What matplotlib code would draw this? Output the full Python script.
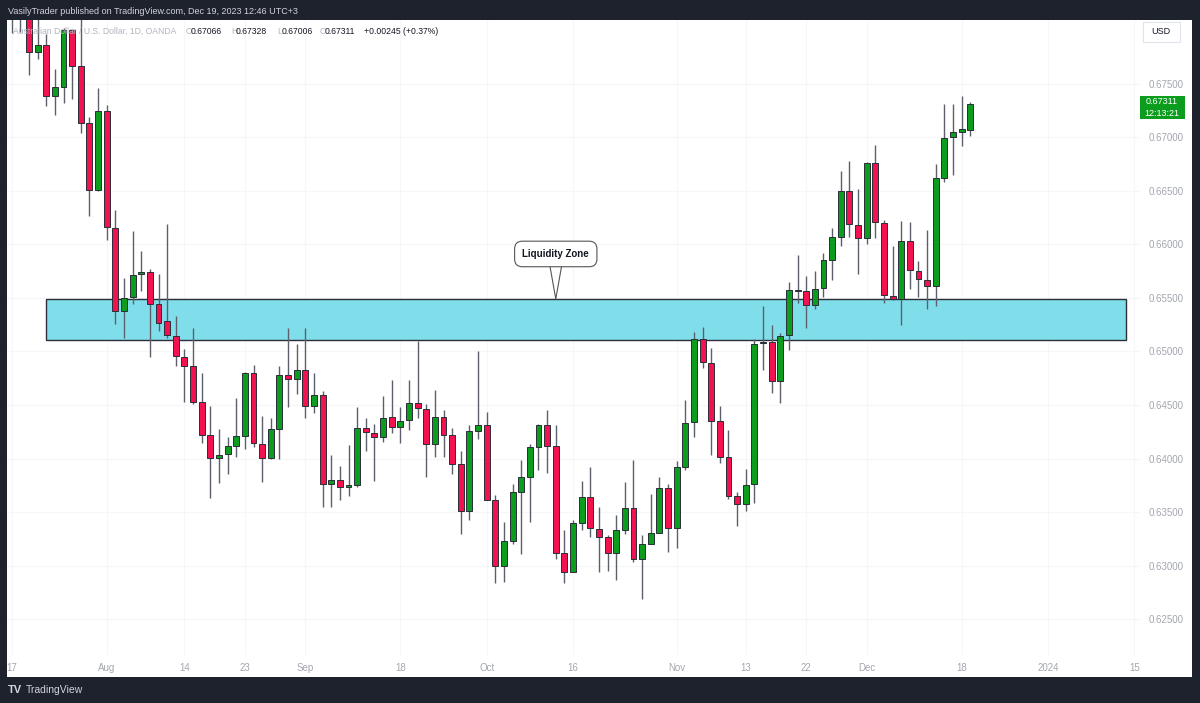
import numpy as np
import pandas as pd
import matplotlib
matplotlib.use('Agg')
import matplotlib.pyplot as plt
from matplotlib.patches import Rectangle

plt.rcParams['font.family'] = ['Liberation Sans', 'DejaVu Sans']

# AUD/USD daily candles, 17 Jul - 19 Dec 2023
opens = [0.6835, 0.6816, 0.6826, 0.6779, 0.6786, 0.6738, 0.6747, 0.6800, 0.6766, 0.6713,
         0.6651, 0.6724, 0.6615, 0.6538, 0.6551, 0.6572, 0.6574, 0.6544, 0.6528, 0.6514,
         0.6495, 0.6486, 0.6453, 0.6422, 0.6401, 0.6404, 0.6412, 0.6421, 0.6480, 0.6414,
         0.6401, 0.6428, 0.6478, 0.6474, 0.6483, 0.6449, 0.6459, 0.6376, 0.6380, 0.6374,
         0.6375, 0.6429, 0.6424, 0.6420, 0.6439, 0.6430, 0.6436, 0.6452, 0.6446, 0.6414,
         0.6439, 0.6422, 0.6395, 0.6351, 0.6426, 0.6431, 0.6361, 0.6300, 0.6323, 0.6369,
         0.6383, 0.6411, 0.6431, 0.6412, 0.6312, 0.6294, 0.6340, 0.6364, 0.6334, 0.6327,
         0.6312, 0.6333, 0.6354, 0.6306, 0.6320, 0.6331, 0.6373, 0.6335, 0.6392, 0.6434,
         0.6512, 0.6489, 0.6435, 0.6402, 0.6365, 0.6358, 0.6376, 0.6508, 0.6509, 0.6472,
         0.6515, 0.6557, 0.6556, 0.6543, 0.6559, 0.6585, 0.6607, 0.6650, 0.6618, 0.6606,
         0.6676, 0.6620, 0.6552, 0.6549, 0.6603, 0.6575, 0.6567, 0.6561, 0.6662, 0.6700,
         0.6705, 0.67066]
highs = [0.6850, 0.6838, 0.6832, 0.6815, 0.6796, 0.6764, 0.6802, 0.6801, 0.6815, 0.6719,
         0.6746, 0.6730, 0.6632, 0.6569, 0.6612, 0.6594, 0.6577, 0.6572, 0.6619, 0.6533,
         0.6502, 0.6522, 0.6480, 0.6449, 0.6428, 0.6420, 0.6457, 0.6481, 0.6487, 0.6440,
         0.6438, 0.6486, 0.6522, 0.6507, 0.6522, 0.6480, 0.6463, 0.6403, 0.6393, 0.6413,
         0.6448, 0.6438, 0.6432, 0.6458, 0.6473, 0.6448, 0.6473, 0.6510, 0.6451, 0.6464,
         0.6445, 0.6429, 0.6407, 0.6431, 0.6500, 0.6444, 0.6366, 0.6341, 0.6376, 0.6399,
         0.6414, 0.6432, 0.6445, 0.6431, 0.6333, 0.6343, 0.6379, 0.6392, 0.6355, 0.6329,
         0.6347, 0.6378, 0.6399, 0.6329, 0.6367, 0.6383, 0.6376, 0.6398, 0.6455, 0.6518,
         0.6523, 0.6503, 0.6449, 0.6427, 0.6369, 0.6390, 0.6512, 0.6542, 0.6525, 0.6517,
         0.6565, 0.6590, 0.6570, 0.6575, 0.6592, 0.6615, 0.6668, 0.6678, 0.6652, 0.6677,
         0.6693, 0.6623, 0.6598, 0.6622, 0.6621, 0.6584, 0.6613, 0.6675, 0.6731, 0.6731,
         0.6738, 0.67328]
lows = [0.6797, 0.6798, 0.6758, 0.6773, 0.6729, 0.6721, 0.6732, 0.6736, 0.6704, 0.6626,
        0.6650, 0.6604, 0.6526, 0.6513, 0.6544, 0.6556, 0.6495, 0.6519, 0.6513, 0.6486,
        0.6453, 0.6451, 0.6415, 0.6363, 0.6377, 0.6386, 0.6402, 0.6409, 0.6411, 0.6378,
        0.6400, 0.6400, 0.6448, 0.6460, 0.6438, 0.6443, 0.6355, 0.6355, 0.6361, 0.6365,
        0.6374, 0.6407, 0.6379, 0.6416, 0.6424, 0.6415, 0.6427, 0.6438, 0.6383, 0.6402,
        0.6402, 0.6386, 0.6330, 0.6343, 0.6418, 0.6361, 0.6284, 0.6285, 0.6320, 0.6311,
        0.6341, 0.6389, 0.6387, 0.6306, 0.6284, 0.6294, 0.6333, 0.6327, 0.6294, 0.6295,
        0.6287, 0.6330, 0.6304, 0.6269, 0.6320, 0.6331, 0.6313, 0.6317, 0.6389, 0.6420,
        0.6485, 0.6403, 0.6396, 0.6362, 0.6337, 0.6351, 0.6359, 0.6483, 0.6461, 0.6452,
        0.6501, 0.6545, 0.6522, 0.6540, 0.6551, 0.6567, 0.6598, 0.6607, 0.6572, 0.6600,
        0.6606, 0.6545, 0.6548, 0.6525, 0.6558, 0.6551, 0.6540, 0.6542, 0.6658, 0.6665,
        0.6692, 0.67006]
closes = [0.6818, 0.6826, 0.6779, 0.6786, 0.6738, 0.6747, 0.6800, 0.6766, 0.6713, 0.6651,
          0.6724, 0.6616, 0.6538, 0.6550, 0.6571, 0.6574, 0.6544, 0.6527, 0.6515, 0.6496,
          0.6486, 0.6453, 0.6422, 0.6401, 0.6403, 0.6412, 0.6421, 0.6480, 0.6415, 0.6401,
          0.6428, 0.6478, 0.6474, 0.6483, 0.6449, 0.6459, 0.6376, 0.6380, 0.6374, 0.6375,
          0.6429, 0.6425, 0.6420, 0.6438, 0.6430, 0.6435, 0.6452, 0.6447, 0.6414, 0.6439,
          0.6422, 0.6395, 0.6351, 0.6426, 0.6431, 0.6361, 0.6300, 0.6323, 0.6369, 0.6383,
          0.6411, 0.6431, 0.6412, 0.6312, 0.6294, 0.6340, 0.6364, 0.6335, 0.6327, 0.6312,
          0.6333, 0.6354, 0.6306, 0.6320, 0.6331, 0.6373, 0.6335, 0.6392, 0.6433, 0.6512,
          0.6490, 0.6435, 0.6402, 0.6365, 0.6358, 0.6375, 0.6507, 0.6509, 0.6472, 0.6514,
          0.6557, 0.6556, 0.6543, 0.6558, 0.6585, 0.6607, 0.6650, 0.6619, 0.6606, 0.6676,
          0.6621, 0.6553, 0.6549, 0.6603, 0.6576, 0.6568, 0.6561, 0.6662, 0.6699, 0.6705,
          0.6708, 0.67311]

dates = pd.bdate_range('2023-07-17', '2023-12-19')
axis_days = pd.bdate_range('2023-07-17', '2024-01-31')

tick_dates = ['2023-07-17', '2023-08-01', '2023-08-14', '2023-08-23', '2023-09-01',
              '2023-09-18', '2023-10-02', '2023-10-16', '2023-11-01', '2023-11-13',
              '2023-11-22', '2023-12-01', '2023-12-18', '2024-01-01', '2024-01-15']
tick_labels = ['17', 'Aug', '14', '23', 'Sep', '18', 'Oct', '16', 'Nov', '13',
               '22', 'Dec', '18', '2024', '15']
price_ticks = [0.625, 0.630, 0.635, 0.640, 0.645, 0.650, 0.655, 0.660, 0.665, 0.670, 0.675]

zone_low, zone_high = 0.6511, 0.6549
zone_start, zone_end = '2023-07-21', '2024-01-12'

GREEN = '#0c9c1e'
RED = '#f2124f'
W, H = 1200, 703

def fx(px):
    return px / W

def fy(py):
    return 1 - py / H

fig = plt.figure(figsize=(W / 100, H / 100), dpi=100)
fig.patch.set_facecolor('#1e222d')
# white chart panel
fig.patches.append(Rectangle((fx(7), fy(677)), fx(1192) - fx(7), fy(20) - fy(677),
                             transform=fig.transFigure, fc='white', ec='none', zorder=-5))

ax = fig.add_axes([fx(7), fy(655), fx(1140) - fx(7), fy(20) - fy(655)])
ax.set_zorder(1)
ax.set_facecolor('white')

o = np.array(opens); h = np.array(highs); l = np.array(lows); c = np.array(closes)
x = np.arange(len(dates))
up = c >= o
cols = np.where(up, GREEN, RED)

ax.vlines(x, l, h, color='#5d606b', lw=1, zorder=3)
ax.bar(x, np.maximum(np.abs(c - o), 0.00004), bottom=np.minimum(o, c), width=0.68,
       color=cols, edgecolor='#2a2e39', linewidth=0.7, zorder=4)

# liquidity zone
z0 = axis_days.get_loc(pd.Timestamp(zone_start))
z1 = axis_days.get_loc(pd.Timestamp(zone_end))
ax.add_patch(Rectangle((z0, zone_low), z1 - z0, zone_high - zone_low,
                       fc='#80deea', ec='#2a2e39', lw=1, zorder=2))

mid = axis_days.get_loc(pd.Timestamp('2023-10-12'))
ax.annotate('Liquidity Zone', xy=(mid, zone_high), xytext=(mid, 0.6591),
            ha='center', va='center', fontsize=7, fontweight='bold', color='#131722',
            bbox=dict(boxstyle='round,pad=0.8', fc='white', ec='#555555', lw=0.8),
            arrowprops=dict(arrowstyle='wedge,tail_width=1.15', mutation_scale=10,
                            fc='white', ec='#555555', lw=0.8, patchA=None, shrinkA=0, shrinkB=0),
            zorder=6)

tick_pos = [axis_days.get_loc(pd.Timestamp(d)) for d in tick_dates]
ax.set_xticks(tick_pos)
ax.set_xticklabels(tick_labels)
ax.set_yticks(price_ticks)
ax.set_yticklabels(['%.5f' % p for p in price_ticks])
ax.yaxis.tick_right()
ax.tick_params(axis='both', length=0, colors='#a3a6af', labelsize=7)
ax.tick_params(axis='x', pad=6)
ax.tick_params(axis='y', pad=6)
ax.grid(True, color='#f5f6f8', lw=0.8, zorder=0)
ax.set_axisbelow(True)
for s in ax.spines.values():
    s.set_visible(False)

ax.set_xlim(-0.544, 130.65)
ax.set_ylim(0.62168, 0.68093)

# header bar
fig.text(fx(8), fy(11), 'VasilyTrader published on TradingView.com, Dec 19, 2023 12:46 UTC+3',
         color='#d1d4dc', fontsize=6.5, va='center', ha='left')

# symbol legend
legend_bits = [(13, 'Australian Dollar / U.S. Dollar, 1D, OANDA', '#b2b5be'),
               (186, 'O', '#b2b5be'), (191, '0.67066', '#131722'),
               (231, 'H', '#b2b5be'), (236, '0.67328', '#131722'),
               (277, 'L', '#b2b5be'), (282, '0.67006', '#131722'),
               (320, 'C', '#b2b5be'), (325, '0.67311', '#131722'),
               (364, '+0.00245 (+0.37%)', '#131722')]
for px, txt, col in legend_bits:
    fig.text(fx(px), fy(31), txt, color=col, fontsize=6.2, va='center', ha='left', zorder=10)

# USD box
fig.patches.append(Rectangle((fx(1143), fy(42)), fx(1180) - fx(1143), fy(22) - fy(42),
                             transform=fig.transFigure, fc='white', ec='#e0e3eb', lw=0.8, zorder=5))
fig.text(fx(1161), fy(32), 'USD', color='#131722', fontsize=6.5, ha='center', va='center', zorder=6)

# last price label
fig.patches.append(Rectangle((fx(1140), fy(119)), fx(1185) - fx(1140), fy(96) - fy(119),
                             transform=fig.transFigure, fc=GREEN, ec='none', zorder=5))
fig.text(fx(1162), fy(102), '0.67311', color='white', fontsize=6.5, ha='center', va='center', zorder=6)
fig.text(fx(1162), fy(113), '12:13:21', color='white', fontsize=6.5, ha='center', va='center', zorder=6)

# footer
fig.text(fx(8), fy(690), 'TV', color='#d1d4dc', fontsize=8, fontweight='bold', va='center', ha='left')
fig.text(fx(26), fy(690), 'TradingView', color='#d1d4dc', fontsize=7.5, va='center', ha='left')

fig.savefig('out.png', dpi=100, facecolor=fig.get_facecolor())
